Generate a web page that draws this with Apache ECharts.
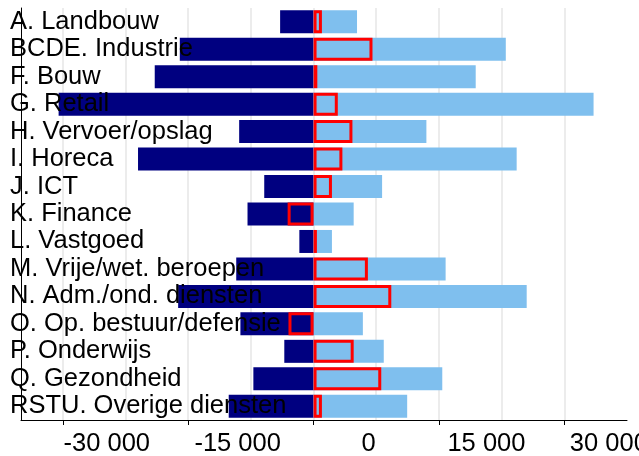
<!DOCTYPE html>
<html>
<head>
<meta charset="utf-8">
<script src="https://cdn.jsdelivr.net/npm/echarts@6/dist/echarts.min.js"></script>
<style>
html,body{margin:0;padding:0;background:#fff;}
#chart{width:639px;height:456px;}
</style>
</head>
<body>
<div id="chart"></div>
<script>
const categories = [
  "A. Landbouw", "BCDE. Industrie", "F. Bouw", "G. Retail", "H. Vervoer/opslag",
  "I. Horeca", "J. ICT", "K. Finance", "L. Vastgoed", "M. Vrije/wet. beroepen",
  "N. Adm./ond. diensten", "O. Op. bestuur/defensie", "P. Onderwijs", "Q. Gezondheid",
  "RSTU. Overige diensten"
];
const negValues = [-4000, -16000, -19000, -30500, -8900, -21000, -5900, -7900, -1700, -9250, -16200, -8750, -3500, -7200, -10150];
const posValues = [5200, 23000, 19400, 33500, 13500, 24300, 8200, 4800, 2200, 15800, 25500, 5900, 8400, 15400, 11200];
const netValues = [1000, 7050, 450, 2900, 4650, 3450, 2200, -3100, 400, 6500, 9300, -3000, 4800, 8100, 1000];
const tickValues = [-30000, -15000, 0, 15000, 30000];
const gridValues = [-30000, -22500, -15000, -7500, 0, 7500, 15000, 22500, 30000];

const FONT = "'Liberation Sans', Arial, sans-serif";

function fmt(v) {
  const s = Math.abs(v).toString().replace(/\B(?=(\d{3})+(?!\d))/g, ' ');
  return (v < 0 ? '-' : '') + s;
}

const richBase = { fontSize: 25.5, fontFamily: FONT, color: '#000' };
const rich = {
  l0: Object.assign({ padding: [0, 0, 0, 88] }, richBase),
  l1: Object.assign({ padding: [0, 0, 0, 99] }, richBase),
  l2: Object.assign({ padding: [0, 0, 0, 110] }, richBase),
  l3: Object.assign({ padding: [0, 0, 0, 95] }, richBase),
  l4: Object.assign({ padding: [0, 0, 0, 89] }, richBase)
};

const chart = echarts.init(document.getElementById('chart'), null, { renderer: 'canvas' });
chart.setOption({
  animation: false,
  backgroundColor: '#ffffff',
  grid: { left: 21, right: 12, top: 8, bottom: 36, containLabel: false, outerBoundsMode: 'none' },
  xAxis: [
    {
      type: 'value', min: -35000, max: 37500, position: 'bottom',
      axisLine: { show: true, lineStyle: { color: '#000', width: 1 } },
      axisTick: { show: false, customValues: gridValues },
      axisLabel: { show: false, customValues: gridValues },
      splitLine: { show: true, lineStyle: { color: '#e6e6e6', width: 1.5 } }
    },
    {
      type: 'value', min: -35000, max: 37500, position: 'bottom', offset: 0,
      axisLine: { show: false },
      axisTick: { show: true, customValues: tickValues, length: 5, lineStyle: { color: '#000', width: 1 } },
      axisLabel: {
        show: true, customValues: tickValues, margin: 11, hideOverlap: false,
        fontSize: 25.5, fontFamily: FONT, color: '#000',
        formatter: function (v) {
          const i = tickValues.indexOf(v);
          return '{l' + (i < 0 ? 0 : i) + '|' + fmt(v) + '}';
        },
        rich: rich
      },
      splitLine: { show: false }
    }
  ],
  yAxis: {
    type: 'category', data: categories, inverse: true, z: 10,
    axisLine: { show: true, onZero: false, lineStyle: { color: '#000', width: 1 } },
    axisTick: { show: false },
    splitLine: { show: false },
    axisLabel: { interval: 0, hideOverlap: false, align: 'left', margin: 11, padding: [3, 0, 0, 0],
                 fontSize: 25.5, fontFamily: FONT, color: '#000' }
  },
  series: [
    {
      name: 'neg', type: 'bar', xAxisIndex: 0, data: negValues,
      barWidth: 23, barGap: '-100%',
      itemStyle: { color: '#000080' }
    },
    {
      name: 'pos', type: 'bar', xAxisIndex: 0, data: posValues,
      barWidth: 23, barGap: '-100%',
      itemStyle: { color: '#7fbfee' }
    },
    {
      name: 'net', type: 'bar', xAxisIndex: 0, data: netValues,
      barWidth: 23, barGap: '-100%',
      itemStyle: { color: 'rgba(0,0,0,0)', borderColor: '#ff0000', borderWidth: 3 }
    }
  ]
});
</script>
</body>
</html>
